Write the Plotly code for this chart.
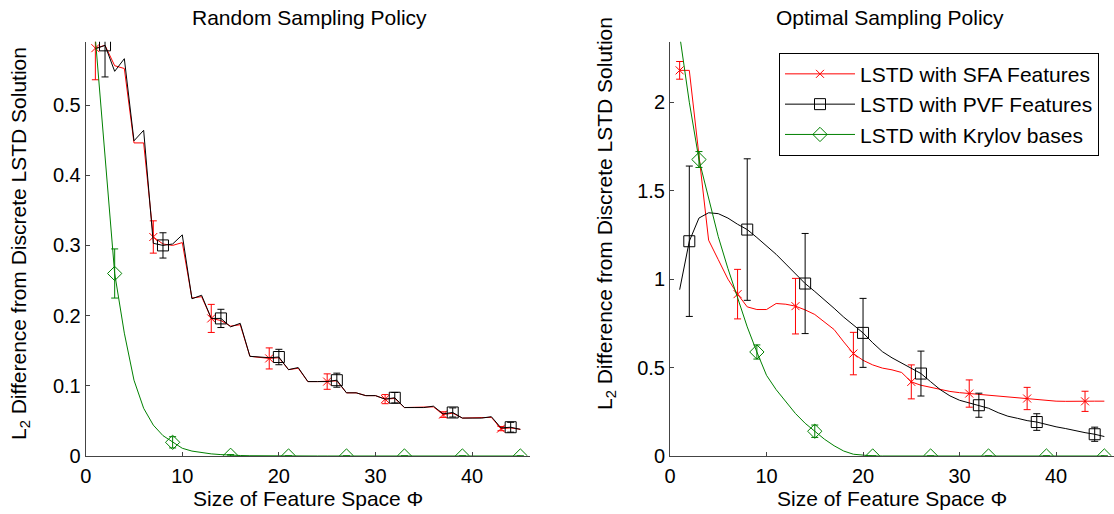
import plotly.graph_objects as go

# ---------------- data ----------------
x_all = list(range(1, 46))

left_sfa = [0.581, 0.585, 0.556, 0.552, 0.446, 0.446, 0.312, 0.302, 0.300, 0.304,
            0.225, 0.227, 0.196, 0.193, 0.185, 0.187, 0.142, 0.141, 0.139, 0.140,
            0.123, 0.125, 0.106, 0.106, 0.106, 0.107, 0.090, 0.090, 0.086, 0.086,
            0.081, 0.082, 0.069, 0.069, 0.069, 0.070, 0.059, 0.061, 0.054, 0.054,
            0.054, 0.055, 0.039, 0.040, 0.038]
left_pvf = [0.580, 0.585, 0.548, 0.566, 0.449, 0.464, 0.303, 0.300, 0.302, 0.315,
            0.224, 0.229, 0.196, 0.196, 0.184, 0.189, 0.142, 0.141, 0.140, 0.141,
            0.123, 0.126, 0.106, 0.106, 0.106, 0.108, 0.090, 0.090, 0.086, 0.086,
            0.081, 0.083, 0.069, 0.069, 0.069, 0.071, 0.060, 0.062, 0.054, 0.054,
            0.054, 0.056, 0.040, 0.041, 0.038]
left_krylov = [0.595, 0.43, 0.26, 0.175, 0.108, 0.068, 0.044, 0.029, 0.0195, 0.011,
               0.007, 0.0045, 0.003, 0.002, 0.001, 0.0007, 0.0004, 0.0002, 0.0001, 0.0,
               0.0, 0.0, 0.0, 0.0, 0.0, 0.0, 0.0, 0.0, 0.0, 0.0,
               0.0, 0.0, 0.0, 0.0, 0.0, 0.0, 0.0, 0.0, 0.0, 0.0,
               0.0, 0.0, 0.0, 0.0, 0.0]

right_sfa = [2.18, 2.18, 1.70, 1.22, 1.11, 1.00, 0.915, 0.843, 0.828, 0.828,
             0.862, 0.858, 0.847, 0.826, 0.80, 0.755, 0.715, 0.645, 0.579, 0.541,
             0.515, 0.497, 0.487, 0.472, 0.419, 0.40, 0.388, 0.375, 0.365, 0.358,
             0.353, 0.348, 0.345, 0.34, 0.335, 0.33, 0.325, 0.32, 0.315, 0.31,
             0.309, 0.308, 0.309, 0.31, 0.31]
right_pvf = [0.94, 1.214, 1.345, 1.375, 1.37, 1.345, 1.31, 1.28, 1.235, 1.19,
             1.14, 1.085, 1.03, 0.975, 0.93, 0.885, 0.835, 0.785, 0.74, 0.696,
             0.64, 0.59, 0.555, 0.525, 0.495, 0.466, 0.42, 0.375, 0.34, 0.315,
             0.30, 0.287, 0.27, 0.245, 0.225, 0.213, 0.20, 0.192, 0.178, 0.165,
             0.155, 0.142, 0.132, 0.123, 0.11]
right_krylov = [2.38, 2.0, 1.676, 1.45, 1.24, 1.06, 0.89, 0.73, 0.588, 0.456,
                0.375, 0.305, 0.24, 0.185, 0.14, 0.095, 0.058, 0.028, 0.01, 0.003,
                0.0, 0.0, 0.0, 0.0, 0.0, 0.0, 0.0, 0.0, 0.0, 0.0,
                0.0, 0.0, 0.0, 0.0, 0.0, 0.0, 0.0, 0.0, 0.0, 0.0,
                0.0, 0.0, 0.0, 0.0, 0.0]

# x positions that carry markers / error bars
sfa_mark_x = [1, 7, 13, 19, 25, 31, 37, 43]
pvf_mark_x = [2, 8, 14, 20, 26, 32, 38, 44]
kry_mark_x = [3, 9, 15, 21, 27, 33, 39, 45]

left_sfa_err = [0.045, 0.023, 0.02, 0.015, 0.011, 0.0065, 0.004, 0.003]
left_pvf_err = [0.045, 0.018, 0.013, 0.011, 0.01, 0.0075, 0.0065, 0.007]
left_kry_err = [0.035, 0.008, 0.001, 0, 0, 0, 0, 0]

right_sfa_err = [0.05, 0.14, 0.157, 0.12, 0.096, 0.077, 0.063, 0.057]
right_pvf_err = [0.425, 0.4, 0.283, 0.195, 0.127, 0.068, 0.047, 0.04]
right_kry_err = [0.045, 0.04, 0.035, 0, 0, 0, 0, 0]

series_names = ["LSTD with SFA Features", "LSTD with PVF Features", "LSTD with Krylov bases"]
panel_titles = ["Random Sampling Policy", "Optimal Sampling Policy"]
x_ticks = [0, 10, 20, 30, 40]
left_y_ticks = [0, 0.1, 0.2, 0.3, 0.4, 0.5]
left_y_text = ["0", "0.1", "0.2", "0.3", "0.4", "0.5"]
right_y_ticks = [0, 0.5, 1, 1.5, 2]
right_y_text = ["0", "0.5", "1", "1.5", "2"]

# ---------------- styling ----------------
FONT = "Liberation Sans, Arial, Helvetica, sans-serif"
RED = "#ff0000"
BLACK = "#000000"
GREEN = "#008000"
AX = "#444444"

styles = [
    dict(color=RED, symbol="x-thin-open", size=8),
    dict(color=BLACK, symbol="square-open", size=11),
    dict(color=GREEN, symbol="diamond-open", size=11),
]

fig = go.Figure()


def pick(vals, xs):
    return [vals[x_all.index(x)] for x in xs]


def add_panel(xa, ya, series, errs):
    marks = [sfa_mark_x, pvf_mark_x, kry_mark_x]
    for vals, err, mx, st in zip(series, errs, marks, styles):
        fig.add_trace(go.Scatter(
            x=x_all, y=vals, mode="lines", xaxis=xa, yaxis=ya,
            line=dict(color=st["color"], width=1), showlegend=False, hoverinfo="skip"))
        fig.add_trace(go.Scatter(
            x=mx, y=pick(vals, mx), mode="markers", xaxis=xa, yaxis=ya,
            marker=dict(symbol=st["symbol"], size=st["size"], color=st["color"],
                        line=dict(color=st["color"], width=1)),
            error_y=dict(type="data", array=err, visible=True, color=st["color"],
                         thickness=1, width=3.5),
            showlegend=False))


add_panel("x", "y", [left_sfa, left_pvf, left_krylov],
          [left_sfa_err, left_pvf_err, left_kry_err])
add_panel("x2", "y2", [right_sfa, right_pvf, right_krylov],
          [right_sfa_err, right_pvf_err, right_kry_err])

# legend entries
for name, st in zip(series_names, styles):
    fig.add_trace(go.Scatter(
        x=[None], y=[None], mode="lines+markers", name=name, xaxis="x2", yaxis="y2",
        line=dict(color=st["color"], width=1),
        marker=dict(symbol=st["symbol"], size=st["size"], color=st["color"],
                    line=dict(color=st["color"], width=1))))

W, H = 1114, 514
ydom = [1 - 456 / H, 1 - 41.7 / H]

common_x = dict(range=[0, 46], tickmode="array", tickvals=x_ticks,
                ticks="inside", ticklen=4, tickcolor=AX, showline=True,
                linecolor=AX, linewidth=1, showgrid=False, zeroline=False,
                automargin=False, ticklabelstandoff=2,
                tickfont=dict(family=FONT, size=20, color="black"), fixedrange=True)
common_y = dict(ticks="inside", ticklen=4, tickcolor=AX, showline=True,
                linecolor=AX, linewidth=1, showgrid=False, zeroline=False,
                tickmode="array", automargin=False,
                tickfont=dict(family=FONT, size=20, color="black"), fixedrange=True)

fig.update_layout(
    width=W, height=H,
    margin=dict(l=0, r=0, t=0, b=0, pad=0, autoexpand=False),
    paper_bgcolor="white", plot_bgcolor="white",
    font=dict(family=FONT, size=21, color="black"),
    xaxis=dict(domain=[85.7 / W, 530 / W], anchor="y", **common_x),
    yaxis=dict(domain=ydom, anchor="x", range=[0, 0.5902],
               tickvals=left_y_ticks, ticktext=left_y_text, **common_y),
    xaxis2=dict(domain=[670 / W, 1.0], anchor="y2", **common_x),
    yaxis2=dict(domain=ydom, anchor="x2", range=[0, 2.342],
                tickvals=right_y_ticks, ticktext=right_y_text, **common_y),
    legend=dict(x=779 / W, y=1 - 52.7 / H, xanchor="left", yanchor="top",
                bordercolor="black", borderwidth=1, bgcolor="white",
                font=dict(family=FONT, size=21, color="black"),
                itemwidth=70, tracegroupgap=0),
    showlegend=True,
)

annos = [
    dict(text=panel_titles[0], x=309 / W, y=1 - 18 / H),
    dict(text=panel_titles[1], x=890 / W, y=1 - 18 / H),
    dict(text="Size of Feature Space \u03a6", x=308 / W, y=1 - 498 / H),
    dict(text="Size of Feature Space \u03a6", x=892 / W, y=1 - 498 / H),
    dict(text="L<sub>2</sub> Difference from Discrete LSTD Solution",
         x=20 / W, y=1 - 244 / H, textangle=-90),
    dict(text="L<sub>2</sub> Difference from Discrete LSTD Solution",
         x=606 / W, y=1 - 214 / H, textangle=-90),
]
for a in annos:
    fig.add_annotation(xref="paper", yref="paper", showarrow=False,
                       xanchor="center", yanchor="middle",
                       font=dict(family=FONT, size=21, color="black"), **a)

fig.write_html("out.html")
